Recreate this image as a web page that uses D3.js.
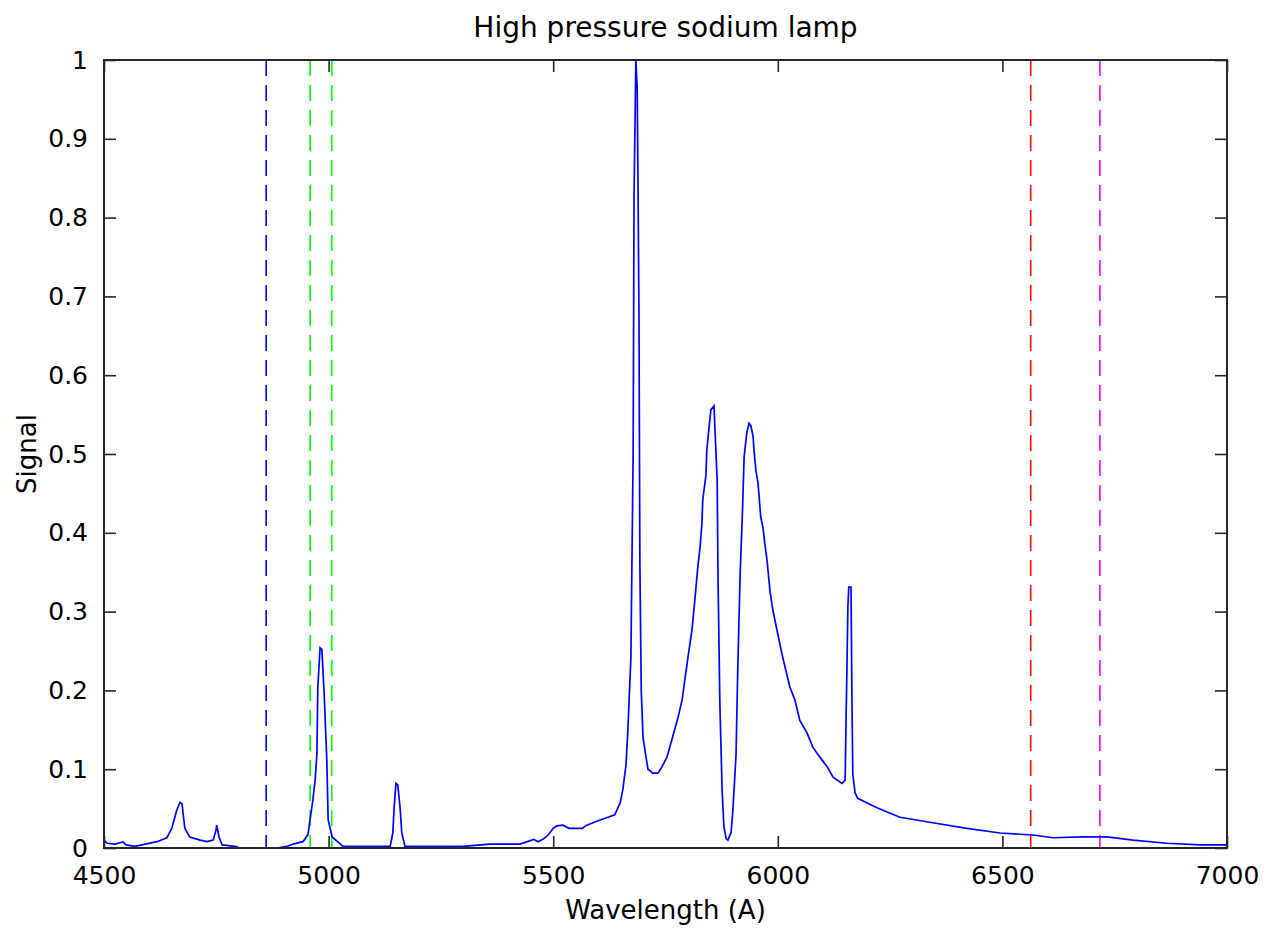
<!DOCTYPE html>
<html>
  <head>
    <meta charset="utf-8" />
    <title>High pressure sodium lamp</title>
    <script src="https://d3js.org/d3.v7.min.js"></script>
    <style>
      body { margin: 0; background: #fff; }
      text { font-family: "DejaVu Sans", sans-serif; }
    </style>
  </head>
  <body>
    <script>
      // spectrum: wavelength (A) and signal
      let wavelength = [4500, 4507, 4524, 4538, 4542, 4549, 4569, 4618, 4640, 4651, 4662, 4669, 4674, 4676, 4680, 4691, 4714, 4729, 4743, 4749, 4751, 4756, 4763, 4792, 4803, 4885, 4907, 4921, 4943, 4954, 4965, 4970, 4974, 4976, 4981, 4985, 4990, 4996, 4999, 5008, 5032, 5137, 5143, 5146, 5150, 5154, 5159, 5163, 5170, 5299, 5359, 5426, 5457, 5466, 5477, 5488, 5500, 5508, 5522, 5535, 5564, 5575, 5597, 5622, 5637, 5649, 5655, 5662, 5666, 5673, 5678, 5680, 5684, 5687, 5689, 5691, 5693, 5696, 5700, 5707, 5711, 5722, 5733, 5742, 5753, 5764, 5778, 5787, 5793, 5800, 5809, 5816, 5822, 5827, 5831, 5833, 5840, 5842, 5847, 5851, 5858, 5860, 5865, 5867, 5871, 5876, 5880, 5885, 5889, 5896, 5900, 5907, 5911, 5916, 5922, 5925, 5931, 5936, 5940, 5945, 5947, 5951, 5956, 5962, 5967, 5971, 5976, 5983, 5989, 5998, 6009, 6016, 6027, 6038, 6049, 6065, 6078, 6094, 6110, 6123, 6143, 6150, 6152, 6154, 6156, 6158, 6163, 6165, 6167, 6172, 6178, 6199, 6221, 6250, 6272, 6345, 6421, 6495, 6568, 6613, 6679, 6733, 6791, 6866, 6940, 7000];
      let signal = [0.010, 0.006, 0.005, 0.007, 0.008, 0.004, 0.002, 0.008, 0.013, 0.025, 0.048, 0.058, 0.056, 0.044, 0.025, 0.014, 0.010, 0.008, 0.010, 0.022, 0.029, 0.014, 0.004, 0.002, 0.000, 0.000, 0.002, 0.005, 0.008, 0.017, 0.061, 0.086, 0.120, 0.204, 0.254, 0.252, 0.198, 0.112, 0.036, 0.014, 0.002, 0.002, 0.019, 0.052, 0.082, 0.080, 0.052, 0.019, 0.002, 0.002, 0.005, 0.005, 0.011, 0.008, 0.011, 0.016, 0.025, 0.028, 0.029, 0.025, 0.025, 0.029, 0.034, 0.039, 0.042, 0.057, 0.074, 0.105, 0.147, 0.242, 0.503, 0.829, 1.000, 0.964, 0.829, 0.670, 0.360, 0.200, 0.140, 0.114, 0.100, 0.095, 0.095, 0.103, 0.115, 0.137, 0.166, 0.188, 0.213, 0.242, 0.277, 0.319, 0.357, 0.382, 0.412, 0.442, 0.473, 0.505, 0.534, 0.556, 0.561, 0.533, 0.467, 0.340, 0.184, 0.074, 0.027, 0.012, 0.010, 0.020, 0.048, 0.118, 0.230, 0.344, 0.438, 0.496, 0.527, 0.539, 0.536, 0.522, 0.505, 0.480, 0.463, 0.420, 0.407, 0.387, 0.365, 0.324, 0.302, 0.277, 0.247, 0.230, 0.204, 0.188, 0.162, 0.146, 0.128, 0.115, 0.103, 0.090, 0.082, 0.086, 0.166, 0.230, 0.306, 0.331, 0.331, 0.192, 0.093, 0.070, 0.063, 0.057, 0.051, 0.044, 0.039, 0.032, 0.025, 0.019, 0.0165, 0.013, 0.014, 0.014, 0.010, 0.006, 0.004, 0.004];

      // emission line markers (dashed)
      let markerLines = [4861, 4959, 5007, 6563, 6717];
      let markerColors = ["#0000ff", "#00ff00", "#00ff00", "#ff0000", "#ff00ff"];

      let xTicks = [4500, 5000, 5500, 6000, 6500, 7000];
      let yTicks = [0, 0.1, 0.2, 0.3, 0.4, 0.5, 0.6, 0.7, 0.8, 0.9, 1];

      let width = 1269;
      let height = 933;
      let margin = { top: 60, right: 42, bottom: 85, left: 104 };
      let iw = width - margin.left - margin.right;
      let ih = height - margin.top - margin.bottom;

      let svg = d3
        .select("body")
        .append("svg")
        .attr("width", width)
        .attr("height", height);

      let x = d3.scaleLinear().domain([4500, 7000]).range([0, iw]);
      let y = d3.scaleLinear().domain([0, 1]).range([ih, 0]);

      let g = svg
        .append("g")
        .attr("transform", `translate(${margin.left},${margin.top})`);

      g.append("clipPath")
        .attr("id", "clip")
        .append("rect")
        .attr("width", iw)
        .attr("height", ih);

      // dashed marker lines
      g.selectAll(".marker")
        .data(markerLines)
        .join("line")
        .attr("class", "marker")
        .attr("x1", (d) => x(d))
        .attr("x2", (d) => x(d))
        .attr("y1", y(1))
        .attr("y2", y(0))
        .attr("stroke", (d, i) => markerColors[i])
        .attr("stroke-width", 1.6)
        .attr("stroke-dasharray", "16,9");

      // spectrum
      let line = d3
        .line()
        .x((d) => x(d[0]))
        .y((d) => y(d[1]));
      g.append("path")
        .datum(wavelength.map((w, i) => [w, signal[i]]))
        .attr("clip-path", "url(#clip)")
        .attr("d", line)
        .attr("fill", "none")
        .attr("stroke", "#0000ff")
        .attr("stroke-width", 1.7);

      // axes with inward ticks on all four sides
      let fmtY = (d) => (d === 0 || d === 1 ? d.toString() : d.toFixed(1));
      function styleAxis(sel) {
        sel.select(".domain").remove();
        sel.selectAll("line").attr("stroke", "#262626").attr("stroke-width", 1.6);
        sel
          .selectAll("text")
          .attr("font-size", 25)
          .attr("fill", "#000");
      }
      g.append("g")
        .attr("transform", `translate(0,${ih})`)
        .call(d3.axisBottom(x).tickValues(xTicks).tickSize(-12).tickPadding(18).tickFormat(d3.format("d")))
        .call(styleAxis);
      g.append("g")
        .call(d3.axisTop(x).tickValues(xTicks).tickSize(-12).tickFormat(""))
        .call(styleAxis);
      g.append("g")
        .call(d3.axisLeft(y).tickValues(yTicks).tickSize(-12).tickPadding(16).tickFormat(fmtY))
        .call(styleAxis);
      g.append("g")
        .attr("transform", `translate(${iw},0)`)
        .call(d3.axisRight(y).tickValues(yTicks).tickSize(-12).tickFormat(""))
        .call(styleAxis);

      g.append("rect")
        .attr("width", iw)
        .attr("height", ih)
        .attr("fill", "none")
        .attr("stroke", "#262626")
        .attr("stroke-width", 2);

      // labels
      svg.append("text")
        .attr("x", margin.left + iw / 2)
        .attr("y", 37)
        .attr("text-anchor", "middle")
        .attr("font-size", 28)
        .text("High pressure sodium lamp");
      svg.append("text")
        .attr("x", margin.left + iw / 2)
        .attr("y", 919)
        .attr("text-anchor", "middle")
        .attr("font-size", 26)
        .text("Wavelength (A)");
      svg.append("text")
        .attr("transform", `translate(36,${margin.top + ih / 2}) rotate(-90)`)
        .attr("text-anchor", "middle")
        .attr("font-size", 26)
        .text("Signal");
    </script>
  </body>
</html>
